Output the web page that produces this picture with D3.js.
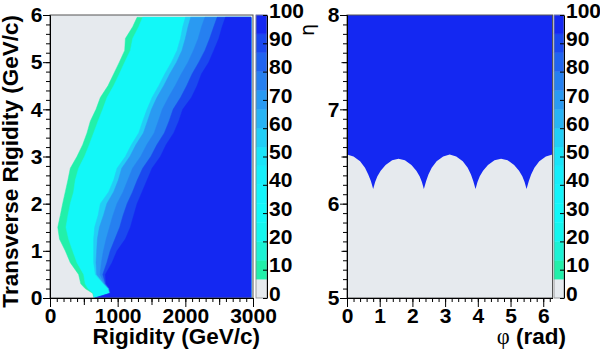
<!DOCTYPE html>
<html lang="en">
<head>
<meta charset="UTF-8">
<title>Efficiency maps</title>
<script src="https://d3js.org/d3.v7.min.js"></script>
<style>
  body { margin: 0; background: #fff; }
  svg text { font-family: "Liberation Sans", Arial, sans-serif; font-weight: bold; fill: #000; }
  .axis path, .axis line { stroke: #000; }
</style>
</head>
<body>
<div id="chart"></div>
<script>
// ---- left panel: contour edges (rigidity in GeV/c) for each transverse rigidity row
const trRows = [0, 0.1, 0.2, 0.3, 0.5, 0.75, 1.0, 1.25, 1.5, 1.75, 2.0, 2.25, 2.5, 2.75, 3.0, 3.25, 3.5, 3.75, 4.0, 4.25, 4.5, 4.75, 5.0, 5.25, 5.5, 5.75, 5.95];
const edge7  = [650, 630, 520, 455, 423, 300, 226, 140, 115, 152, 187, 226, 265, 300, 399, 483, 547, 596, 680, 744, 857, 941, 1025, 1104, 1114, 1222, 1287];
const edge13 = [652, 640, 560, 520, 498, 399, 335, 275, 236, 265, 300, 349, 374, 423, 510, 581, 645, 710, 779, 843, 941, 1025, 1104, 1188, 1222, 1311, 1370];
const edge53 = [655, 880, 860, 790, 670, 645, 645, 645, 660, 710, 744, 867, 941, 991, 1114, 1203, 1311, 1370, 1434, 1509, 1607, 1696, 1795, 1878, 1928, 1962, 2002];
const edge60 = [660, 885, 865, 800, 690, 680, 690, 700, 730, 790, 840, 940, 1010, 1060, 1180, 1270, 1380, 1440, 1500, 1580, 1680, 1770, 1870, 1950, 2000, 2040, 2080];
const edge73 = [665, 890, 870, 810, 740, 760, 790, 830, 880, 930, 990, 1080, 1150, 1220, 1340, 1430, 1540, 1600, 1660, 1750, 1850, 1940, 2040, 2120, 2190, 2240, 2290];
const edge87 = [668, 893, 875, 820, 780, 840, 890, 960, 1030, 1080, 1140, 1220, 1290, 1370, 1490, 1580, 1690, 1760, 1820, 1930, 2020, 2100, 2200, 2290, 2360, 2420, 2470];
const edge93 = [670, 895, 880, 830, 818, 917, 991, 1114, 1188, 1237, 1287, 1361, 1435, 1509, 1632, 1716, 1829, 1903, 1962, 2090, 2174, 2238, 2347, 2421, 2495, 2544, 2593];
const rigMaxData = 2970;

// ---- right panel: lower edge of the full-efficiency region in eta vs phi
const phiEdge = [0, 0.2, 0.4, 0.55, 0.65, 0.73, 0.80,
  0.86, 0.93, 1.03, 1.18, 1.38, 1.575, 1.77, 1.97, 2.12, 2.22, 2.29, 2.35,
  2.42, 2.49, 2.59, 2.74, 2.94, 3.14, 3.34, 3.54, 3.69, 3.79, 3.86, 3.93,
  3.99, 4.06, 4.16, 4.31, 4.51, 4.71, 4.91, 5.11, 5.26, 5.36, 5.43, 5.49,
  5.56, 5.63, 5.73, 5.88, 6.08, 6.2832];
const etaEdge = [6.52, 6.50, 6.45, 6.38, 6.31, 6.24, 6.155,
  6.23, 6.29, 6.35, 6.41, 6.46, 6.475, 6.46, 6.41, 6.35, 6.29, 6.23, 6.155,
  6.24, 6.31, 6.38, 6.45, 6.50, 6.52, 6.50, 6.45, 6.38, 6.31, 6.24, 6.155,
  6.23, 6.29, 6.35, 6.41, 6.46, 6.475, 6.46, 6.41, 6.35, 6.29, 6.23, 6.155,
  6.24, 6.31, 6.38, 6.45, 6.50, 6.52];

// ---- palette (15 contour levels, 0-100 %)
const levels = [0, 6.67, 13.33, 20, 26.67, 33.33, 40, 46.67, 53.33, 60, 66.67, 73.33, 80, 86.67, 93.33, 100];
const pal = ["#e6eaee", "#22f0aa", "#1cf2d4", "#14f6ee", "#12f8f8", "#14f4fa", "#16eefa", "#1ae4f8",
             "#22cef6", "#28b4f4", "#2a9af2", "#2680f0", "#2064f0", "#1a48f0", "#1428f2"];
const cbLabels = [0, 10, 20, 30, 40, 50, 60, 70, 80, 90, 100];

const xTicksL = [0, 1000, 2000, 3000];
const yTicksL = [0, 1, 2, 3, 4, 5, 6];
const xTicksR = [0, 1, 2, 3, 4, 5, 6];
const yTicksR = [5, 6, 7, 8];

const W = 600, H = 353;
const plotTop = 15, plotBottom = 298;
const labelSize = "21px", titleSize = "22.5px";
const fmt = d3.format("d");

const svg = d3.select("#chart").append("svg")
  .attr("width", W).attr("height", H);

// scales
const xL = d3.scaleLinear().domain([0, 3000]).range([50, 253]);
const yL = d3.scaleLinear().domain([0, 6]).range([plotBottom, plotTop]);
const xR = d3.scaleLinear().domain([0, 2 * Math.PI]).range([347, 552.5]);
const yR = d3.scaleLinear().domain([5, 8]).range([plotBottom, plotTop]);
const zL = d3.scaleLinear().domain([0, 100]).range([plotBottom, plotTop]);

// ---------- left panel
svg.append("rect")
  .attr("x", xL(0)).attr("y", plotTop)
  .attr("width", xL(3000) - xL(0)).attr("height", plotBottom - plotTop)
  .attr("fill", pal[0]);

const rows = trRows.map((pt, i) => ({
  pt: pt, e7: edge7[i], e13: edge13[i], e53: edge53[i], e60: edge60[i],
  e73: edge73[i], e87: edge87[i], e93: edge93[i]
}));

const layers = [
  { key: "e7", color: pal[1] },
  { key: "e13", color: pal[4] },
  { key: "e53", color: pal[8] },
  { key: "e60", color: pal[10] },
  { key: "e73", color: pal[11] },
  { key: "e87", color: pal[13] },
  { key: "e93", color: pal[14] }
];

layers.forEach(l => {
  const area = d3.area()
    .y(d => yL(d.pt))
    .x0(d => xL(d[l.key]))
    .x1(xL(rigMaxData));
  svg.append("path")
    .datum(rows)
    .attr("d", area)
    .attr("fill", l.color)
    .attr("stroke", l.color)
    .attr("stroke-width", 0.5);
});

svg.append("rect")
  .attr("x", xL(0)).attr("y", plotTop)
  .attr("width", xL(3000) - xL(0)).attr("height", plotBottom - plotTop)
  .attr("fill", "none").attr("stroke", "#555").attr("stroke-width", 1);

// minor ticks only (no labels)
function minorTicks(axisFn, scale, values, size, transform) {
  const g = svg.append("g").attr("class", "axis")
    .attr("transform", transform)
    .call(axisFn(scale).tickValues(values).tickSize(size).tickFormat("").tickSizeOuter(0));
  g.selectAll("text").remove();
  return g;
}

// axes left panel
minorTicks(d3.axisBottom, xL, d3.range(0, 3001, 100), 4, "translate(0," + plotBottom + ")");
minorTicks(d3.axisBottom, xL, d3.range(500, 3000, 1000), 7, "translate(0," + plotBottom + ")");
svg.append("g").attr("class", "axis")
  .attr("transform", "translate(0," + plotBottom + ")")
  .call(d3.axisBottom(xL).tickValues(xTicksL).tickFormat(fmt).tickSize(9).tickPadding(1.5).tickSizeOuter(0))
  .selectAll("text").style("font-size", labelSize);

minorTicks(d3.axisLeft, yL, d3.range(0, 6.01, 0.2), 4, "translate(" + xL(0) + ",0)");
svg.append("g").attr("class", "axis")
  .attr("transform", "translate(" + xL(0) + ",0)")
  .call(d3.axisLeft(yL).tickValues(yTicksL).tickFormat(fmt).tickSize(7).tickPadding(0.5).tickSizeOuter(0))
  .selectAll("text").style("font-size", labelSize);

svg.append("text")
  .attr("transform", "translate(18," + plotTop + ") rotate(-90)")
  .attr("text-anchor", "end")
  .style("font-size", titleSize)
  .text("Transverse Rigidity (GeV/c)");

svg.append("text")
  .attr("x", 260).attr("y", 344)
  .attr("text-anchor", "end")
  .style("font-size", titleSize)
  .text("Rigidity (GeV/c)");

// ---------- colour bars
function colorBar(x0, x1) {
  const g = svg.append("g");
  g.selectAll("rect.band")
    .data(pal)
    .enter().append("rect")
    .attr("class", "band")
    .attr("x", x0)
    .attr("width", x1 - x0)
    .attr("y", (d, i) => zL(levels[i + 1]))
    .attr("height", (d, i) => zL(levels[i]) - zL(levels[i + 1]))
    .attr("fill", d => d)
    .attr("stroke", d => d).attr("stroke-width", 0.4);
  g.append("rect")
    .attr("x", x0).attr("y", plotTop)
    .attr("width", x1 - x0).attr("height", plotBottom - plotTop)
    .attr("fill", "none").attr("stroke", "#888").attr("stroke-width", 0.8);
  const ax = g.append("g").attr("class", "axis")
    .attr("transform", "translate(" + x1 + ",0)")
    .call(d3.axisRight(zL).tickValues(cbLabels).tickFormat(fmt).tickSize(-4).tickPadding(2).tickSizeOuter(0));
  ax.select(".domain").attr("stroke", "#000");
  ax.selectAll("text").style("font-size", labelSize).attr("dy", "0.1em");
}
colorBar(256, 267);
colorBar(554, 564);

// ---------- right panel
svg.append("rect")
  .attr("x", xR(0)).attr("y", plotTop)
  .attr("width", xR(2 * Math.PI) - xR(0)).attr("height", plotBottom - plotTop)
  .attr("fill", pal[0]);

const edgePts = phiEdge.map((p, i) => ({ phi: p, eta: etaEdge[i] }));
svg.append("path")
  .datum(edgePts)
  .attr("d", d3.area().x(d => xR(d.phi)).y0(d => yR(d.eta)).y1(yR(8)))
  .attr("fill", pal[14]);

svg.append("rect")
  .attr("x", xR(0)).attr("y", plotTop)
  .attr("width", xR(2 * Math.PI) - xR(0)).attr("height", plotBottom - plotTop)
  .attr("fill", "none").attr("stroke", "#555").attr("stroke-width", 1);

minorTicks(d3.axisBottom, xR, d3.range(0, 6.21, 0.2), 4, "translate(0," + plotBottom + ")");
svg.append("g").attr("class", "axis")
  .attr("transform", "translate(0," + plotBottom + ")")
  .call(d3.axisBottom(xR).tickValues(xTicksR).tickFormat(fmt).tickSize(9).tickPadding(1.5).tickSizeOuter(0))
  .selectAll("text").style("font-size", labelSize);

minorTicks(d3.axisLeft, yR, d3.range(5, 8.001, 0.1), 4, "translate(" + xR(0) + ",0)");
minorTicks(d3.axisLeft, yR, [5.5, 6.5, 7.5], 5.5, "translate(" + xR(0) + ",0)");
svg.append("g").attr("class", "axis")
  .attr("transform", "translate(" + xR(0) + ",0)")
  .call(d3.axisLeft(yR).tickValues(yTicksR).tickFormat(fmt).tickSize(7).tickPadding(0.5).tickSizeOuter(0))
  .selectAll("text").style("font-size", labelSize);

svg.append("text")
  .attr("transform", "translate(314,24) rotate(-90)")
  .attr("text-anchor", "end")
  .style("font-family", "'DejaVu Sans', sans-serif")
  .style("font-weight", "normal")
  .style("font-size", "19px")
  .text("η");

const phiTitle = svg.append("text")
  .attr("x", 566).attr("y", 344)
  .attr("text-anchor", "end")
  .style("font-size", titleSize);
phiTitle.append("tspan")
  .style("font-family", "'Liberation Serif', serif")
  .style("font-weight", "normal")
  .text("φ");
phiTitle.append("tspan").text(" (rad)");
</script>
</body>
</html>
